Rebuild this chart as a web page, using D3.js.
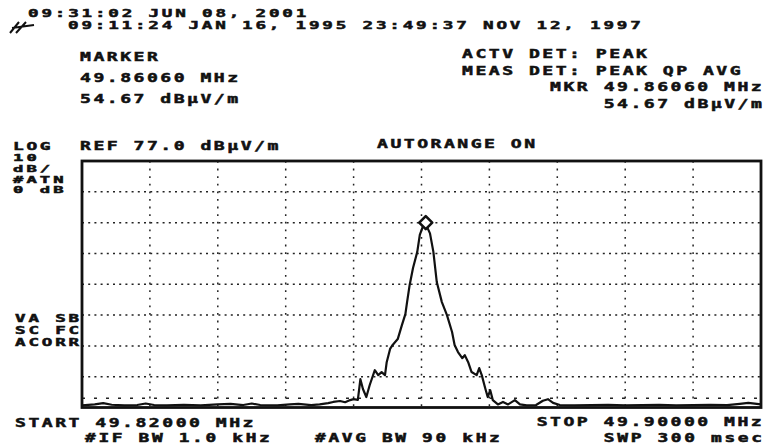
<!DOCTYPE html>
<html><head><meta charset="utf-8">
<script src="https://cdn.jsdelivr.net/npm/d3@7"></script>
<style>
html,body{margin:0;padding:0;background:#fff;}
svg{display:block;}
</style></head>
<body>
<svg id="chart" width="766" height="445"></svg>
<script>
// ---- data ----
const startMHz = 49.82;
const stopMHz = 49.90;
const refLevel = 77.0;          // dBµV/m at top of graticule
const dbPerDiv = 10;
const yDivisions = 8;
const xDivisions = 10;
const displayLine = 0;          // dashed display line level

// trace: frequency offset from start (kHz) and level (dBµV/m)
const traceKHz = [0,1.5,2.5,3.5,5,6.5,7.5,8.5,10,12,14,16,17.5,19,20,21,23,24.5,25.5,27,28,29,29.6,30.4,31,31.6,32,32.5,32.8,33.1,33.5,33.9,34.5,34.9,35.3,35.7,35.9,36.3,36.6,37.2,37.7,38.1,38.3,38.6,39.0,39.5,39.8,40.2,40.5,41.0,41.4,41.8,42.4,43.0,43.6,43.9,44.3,44.8,45.1,45.5,45.9,46.5,46.8,47.1,47.5,47.8,48.1,48.4,49.0,49.6,50.2,51.0,51.6,52.4,53.5,54.3,54.9,55.5,56.3,58,60,62,64,66,68,70,72,74,76,77.5,78.5,80];
const traceDb  = [-2.3,-2.0,-1.6,-2.1,-2.3,-2.2,-1.7,-2.2,-2.3,-2.1,-2.3,-2.0,-1.8,-2.2,-1.7,-2.2,-2.3,-2.0,-1.8,-2.2,-2.0,-1.6,-1.2,-0.9,-1.3,-0.6,-0.3,-0.5,6.2,3.0,0.4,4.3,9.1,7.5,8.5,7.5,11.7,16.0,17.3,19.2,23.8,27.3,31.2,36.7,42.3,47.5,53.0,56.0,56.5,53.5,47.5,37.7,31.2,27.0,21.5,17.3,15.0,13.0,14.0,11.7,8.5,7.5,9.8,7.5,3.3,0.4,2.6,-0.6,-2.0,-1.2,-2.0,-0.6,-2.0,-2.3,-2.2,-0.8,-0.3,-1.5,-2.2,-2.3,-2.2,-2.1,-2.3,-2.2,-2.1,-2.3,-2.2,-2.1,-2.2,-1.8,-1.5,-2.0];

// annotation texts
const headerLine1 = "09:31:02 JUN 08, 2001";
const headerLine2 = "09:11:24 JAN 16, 1995 23:49:37 NOV 12, 1997";
const markerLeft = ["MARKER", "49.86060 MHz", "54.67 dBµV/m"];
const markerRight = ["ACTV DET: PEAK", "MEAS DET: PEAK QP AVG", "MKR 49.86060 MHz", "54.67 dBµV/m"];
const scaleInfo = ["LOG", "10", "dB/", "#ATN", "0 dB"];
const refText = "REF 77.0 dBµV/m";
const autoText = "AUTORANGE ON";
const sideInfo = ["VA SB", "SC FC", "ACORR"];
const startText = "START 49.82000 MHz";
const stopText = "STOP 49.90000 MHz";
const ifbwText = "#IF BW 1.0 kHz";
const avgbwText = "#AVG BW 90 kHz";
const sweepText = "SWP 300 msec";

// ---- layout ----
const svg = d3.select("#chart");
const plot = {left: 82, right: 761, top: 161, bottom: 407.5};

const x = d3.scaleLinear().domain([startMHz, stopMHz]).range([plot.left, plot.right]);
const y = d3.scaleLinear().domain([refLevel - dbPerDiv * yDivisions, refLevel]).range([plot.bottom, plot.top]);

const ink = "#111";

// text helper: wide bold monospace like the instrument font
const PITCH = 13.4;
function txt(str, px, py, opts = {}) {
  const fs = opts.fs || 12.5;
  const sx = opts.sx || 1.45;
  const ls = (PITCH - fs * 0.602 * sx) / sx;
  const w = str.length * PITCH - ls * sx;
  const x0 = opts.right != null ? opts.right - w : px;
  svg.append("text")
    .attr("transform", `translate(${x0},${py}) scale(${sx},1)`)
    .attr("font-family", "DejaVu Sans Mono, monospace")
    .attr("font-weight", "bold")
    .attr("font-size", fs)
    .attr("letter-spacing", ls)
    .attr("fill", ink)
    .attr("stroke", ink)
    .attr("stroke-width", 0.5)
    .style("white-space", "pre")
    .text(str);
}

// ---- graticule ----
const g = svg.append("g");
const xTicks = d3.range(1, xDivisions).map(i => startMHz + (stopMHz - startMHz) * i / xDivisions);
const yTicks = d3.range(1, yDivisions).map(i => refLevel - dbPerDiv * i);

g.selectAll("line.v").data(xTicks).join("line")
  .attr("x1", d => x(d)).attr("x2", d => x(d))
  .attr("y1", plot.top).attr("y2", plot.bottom)
  .attr("stroke", "#222").attr("stroke-width", 1.5)
  .attr("stroke-dasharray", "1.8,5.8");

g.selectAll("line.h").data(yTicks).join("line")
  .attr("x1", plot.left).attr("x2", plot.right)
  .attr("y1", d => y(d)).attr("y2", d => y(d))
  .attr("stroke", "#222").attr("stroke-width", 1.5)
  .attr("stroke-dasharray", "2,4.2");

// display line
g.append("line")
  .attr("x1", plot.left).attr("x2", plot.right)
  .attr("y1", y(displayLine)).attr("y2", y(displayLine))
  .attr("stroke", "#222").attr("stroke-width", 1.4)
  .attr("stroke-dasharray", "3,9");

// ---- trace ----
const pts = traceKHz.map((k, i) => [startMHz + k / 1000, traceDb[i]]);
const line = d3.line().x(d => x(d[0])).y(d => y(d[1]));
svg.append("path").datum(pts)
  .attr("d", line)
  .attr("fill", "none")
  .attr("stroke", ink)
  .attr("stroke-width", 2.2)
  .attr("stroke-linejoin", "round");

// frame
svg.append("rect")
  .attr("x", plot.left).attr("y", plot.top)
  .attr("width", plot.right - plot.left).attr("height", plot.bottom - plot.top)
  .attr("fill", "none").attr("stroke", ink).attr("stroke-width", 2.8);

// marker at trace peak (diamond)
const peak = pts[d3.maxIndex(pts, d => d[1])];
const mx = x(peak[0]), my = y(peak[1]) - 1.5;
const r = 6.5;
svg.append("path")
  .attr("d", `M${mx},${my-r}L${mx+r},${my}L${mx},${my+r}L${mx-r},${my}Z`)
  .attr("fill", "#fff").attr("stroke", ink).attr("stroke-width", 2.6)
  .attr("stroke-linejoin", "round");

// ---- annotations ----
txt(headerLine1, 28, 17, {fs: 11, sx: 1.6});
txt(headerLine2, 68, 29, {fs: 11, sx: 1.6});
// pen icon
svg.append("path")
  .attr("d", "M10,33 L19,22 M16,33 L26,22 M12,28 L34,25")
  .attr("stroke", ink).attr("stroke-width", 2).attr("fill", "none");

markerLeft.forEach((s, i) => txt(s, 80, 61 + i * 21));
markerRight.forEach((s, i) => {
  if (i < 2) txt(s, 462, 58 + i * 16.5);
  else txt(s, 0, 58 + i * 16.5, {right: 762});
});

txt(scaleInfo[0], 13, 150, {fs: 10.5, sx: 1.7});
scaleInfo.slice(1).forEach((s, i) => txt(s, 13, 161 + i * 10.8, {fs: 9.3, sx: 1.85}));
txt(refText, 80, 150);
txt(autoText, 377, 148);
sideInfo.forEach((s, i) => txt(s, 15, 322 + i * 12, {fs: 10.3, sx: 1.7}));

txt(startText, 15, 427);
txt(stopText, 0, 426, {right: 762});
txt(ifbwText, 85, 442, {fs: 11.5, sx: 1.55});
txt(avgbwText, 315, 442, {fs: 11.5, sx: 1.55});
txt(sweepText, 0, 442, {right: 762, fs: 11.5, sx: 1.55});
</script>
</body></html>
